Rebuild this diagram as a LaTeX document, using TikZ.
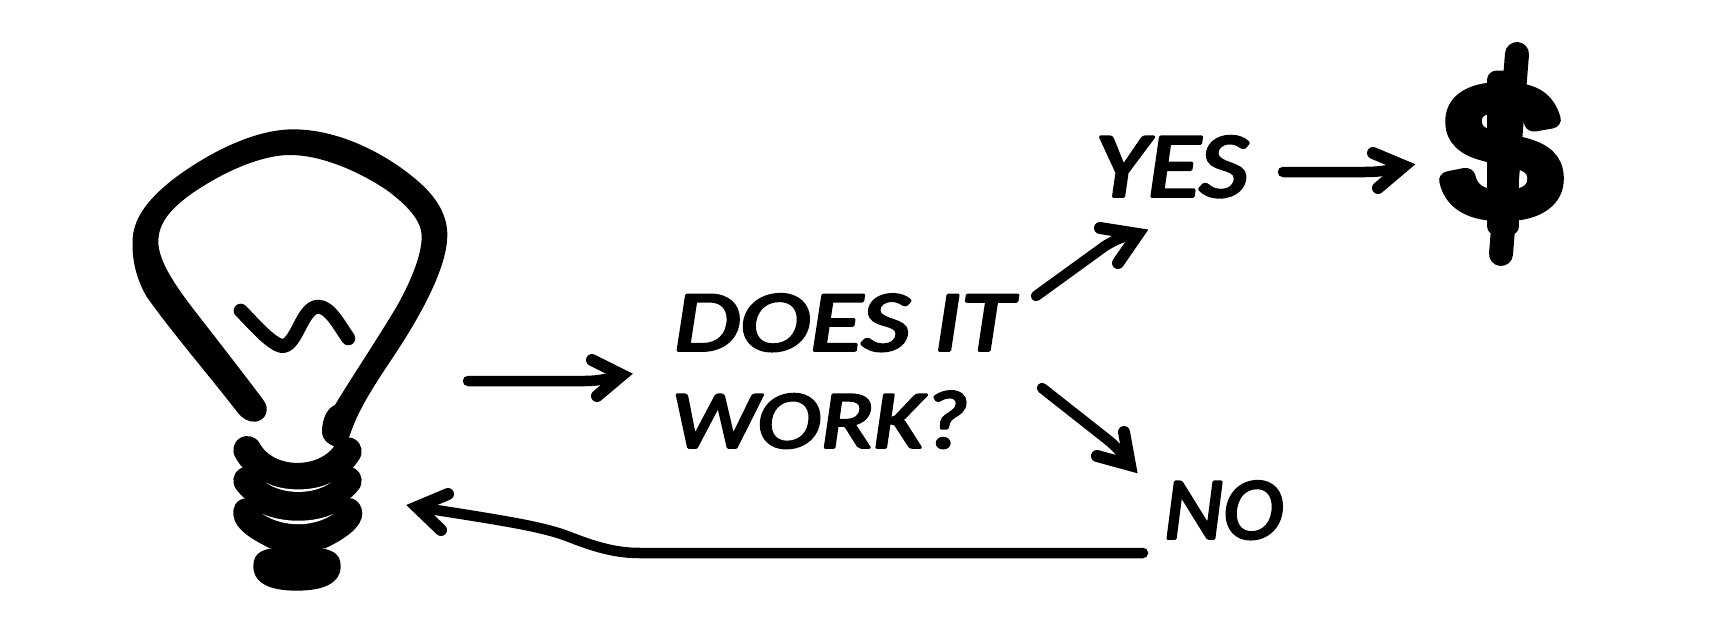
\documentclass[tikz,border=0pt]{standalone}
\usepackage{graphicx}
\usepackage{fontspec}
\newfontfamily\handfont[ItalicFont=Carlito Italic,RawFeature={embolden=3.5}]{Carlito}
\newfontfamily\dollarfont[RawFeature={embolden=10}]{Liberation Sans}
\newcommand{\roundink}{\special{pdf:code 1 j 1 J}}
\newcommand{\handtext}[3]{\resizebox{#1pt}{#2pt}{\roundink\handfont\itshape #3}}
\tikzset{
  hand/.style={inner sep=0pt,outer sep=0pt,anchor=south west,text=black},
  shaft/.style={draw=black,line width=10.5pt,line cap=round,line join=round},
  barb/.style={draw=black,line width=12pt,line cap=round,line join=miter,miter limit=20},
  ink/.style={fill=black,draw=none},
  coil/.style={draw=black,line width=28pt,line cap=round},
  slit/.style={fill=white,draw=none}
}
\begin{document}
\begin{tikzpicture}[x=1pt,y=-1pt]
\useasboundingbox (0,0) rectangle (1719,640);
\fill[white] (0,0) rectangle (1719,640);
% light bulb, traced in the coordinates of a 3x crop
\begin{scope}[shift={(110,110)},x=0.33333pt,y=-0.33333pt]
  \fill[ink] (385,910) .. controls (300,800) and (180,660) .. (110,560)
    .. controls (75,500) and (65,440) .. (68,385)
    .. controls (72,320) and (120,260) .. (200,200)
    .. controls (310,120) and (440,58) .. (550,58)
    .. controls (680,58) and (820,125) .. (920,210)
    .. controls (985,265) and (1012,320) .. (1012,375)
    .. controls (1012,460) and (950,590) .. (850,740)
    .. controls (800,815) and (750,890) .. (725,960)
    .. controls (715,990) and (705,1010) .. (695,1015)
    .. controls (660,1010) and (636,990) .. (636,965)
    .. controls (636,930) and (650,895) .. (675,885)
    .. controls (720,810) and (800,690) .. (860,590)
    .. controls (910,500) and (935,430) .. (935,380)
    .. controls (935,330) and (890,285) .. (830,240)
    .. controls (740,180) and (630,135) .. (540,135)
    .. controls (450,135) and (330,190) .. (235,258)
    .. controls (180,300) and (145,340) .. (145,395)
    .. controls (145,450) and (190,520) .. (260,610)
    .. controls (330,700) and (400,790) .. (460,870)
    .. controls (480,895) and (470,930) .. (437,935)
    .. controls (415,937) and (398,925) .. (385,910) -- cycle;
  \draw[black,line width=14pt,line cap=round,line join=round] (392,602) .. controls (430,640) and (480,700) .. (515,708) .. controls (560,712) and (575,590) .. (625,590) .. controls (660,590) and (690,650) .. (715,685);
  \draw[coil] (412,1020) .. controls (470,1127) and (650,1127) .. (713,1024);
  \draw[coil] (412,1112) .. controls (470,1195) and (650,1195) .. (713,1112);
  \fill[ink] (405,1165) .. controls (375,1170) and (368,1195) .. (370,1215) .. controls (375,1260) and (430,1290) .. (480,1315) -- (645,1315) .. controls (710,1285) and (755,1250) .. (757,1212) .. controls (757,1190) and (745,1170) .. (725,1165) -- cycle;
  \fill[ink] (425,1085) rectangle (700,1250);
  \fill[ink] (560,1310) .. controls (660,1310) and (692,1325) .. (692,1368) .. controls (692,1420) and (640,1442) .. (560,1442) .. controls (480,1442) and (430,1420) .. (430,1368) .. controls (430,1325) and (460,1310) .. (560,1310) -- cycle;
  \fill[slit] (468,1118) .. controls (520,1145) and (610,1145) .. (662,1118) .. controls (610,1155) and (520,1155) .. cycle;
  \fill[slit] (458,1212) .. controls (520,1239) and (610,1239) .. (670,1212) .. controls (610,1253) and (520,1253) .. cycle;
\end{scope}
% texts
\node[hand] (does) at (674,351) {\handtext{339}{56}{DOES IT}};
\node[hand] (work) at (672,448) {\handtext{296}{56}{WORK?}};
\node[hand] (yes) at (1095,197) {\handtext{153}{60}{YES}};
\node[hand] (no) at (1164,539) {\handtext{119}{57}{NO}};
\node[inner sep=0pt,outer sep=0pt,anchor=center] (dollar) at (1502,153) {\resizebox{110pt}{134pt}{\roundink\dollarfont\$}};
\draw[black,line width=24pt,line cap=round] (1517,54) -- (1501,254);
% connector end points
\coordinate (a1s) at (468,381); \coordinate (a1t) at (622,375);
\coordinate (a1u) at (592,360); \coordinate (a1d) at (597,396);
\coordinate (a2s) at (1036,296); \coordinate (a2t) at (1138,234);
\coordinate (a2u) at (1100,228); \coordinate (a2d) at (1118,263);
\coordinate (a3s) at (1042,388); \coordinate (a3t) at (1130,465);
\coordinate (a3u) at (1124,432); \coordinate (a3d) at (1097,456);
\coordinate (a4s) at (1283,172); \coordinate (a4t) at (1404,166);
\coordinate (a4u) at (1373,153); \coordinate (a4d) at (1378,188);
\coordinate (a5s) at (1143,553); \coordinate (a5t) at (417,507);
\coordinate (a5u) at (448,494); \coordinate (a5d) at (441,530);
% connectors
\draw[shaft] (a1s) -- (585,381) .. controls (600,381) and (610,378) .. (a1t);
\draw[barb] (a1u) -- (a1t) -- (a1d);
\draw[shaft] (a2s) -- (1105,246) .. controls (1118,238) and (1125,236) .. (a2t);
\draw[barb] (a2u) -- (a2t) -- (a2d);
\draw[shaft] (a3s) -- (1108,440) .. controls (1118,448) and (1124,456) .. (a3t);
\draw[barb] (a3u) -- (a3t) -- (a3d);
\draw[shaft] (a4s) -- (1365,172) .. controls (1380,172) and (1392,170) .. (a4t);
\draw[barb] (a4u) -- (a4t) -- (a4d);
\draw[shaft] (a5s) -- (640,553) .. controls (615,553) and (595,547) .. (567,536) .. controls (540,526) and (500,520) .. (a5t);
\draw[barb] (a5u) -- (a5t) -- (a5d);
\end{tikzpicture}
\end{document}
